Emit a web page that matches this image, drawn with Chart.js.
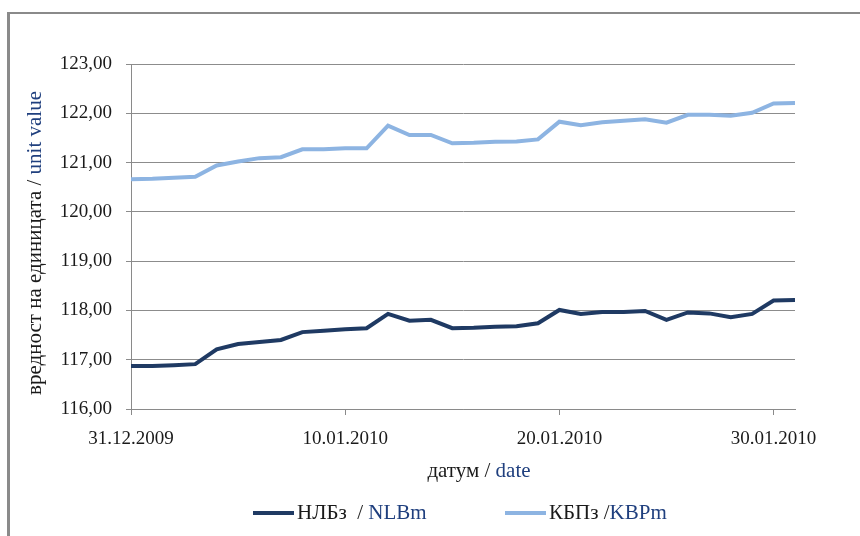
<!DOCTYPE html>
<html lang="bg">

<head>
  <meta charset="UTF-8">
  <script src="https://cdn.jsdelivr.net/npm/chart.js"></script>
  <title>НЛБз / КБПз</title>
  <style>
    html,
    body {
      margin: 0;
      padding: 0;
      background: #ffffff;
    }

    .card {
      position: relative;
      width: 860px;
      height: 536px;
    }
  </style>
</head>

<body>
  <div class="card">
    <canvas id="fundChart" width="860" height="536"></canvas>
  </div>

  <script>
    // datumi (31.12.2009 - 31.01.2010)
    const dates = [
      '31.12.2009', '01.01.2010', '02.01.2010', '03.01.2010', '04.01.2010', '05.01.2010',
      '06.01.2010', '07.01.2010', '08.01.2010', '09.01.2010', '10.01.2010', '11.01.2010',
      '12.01.2010', '13.01.2010', '14.01.2010', '15.01.2010', '16.01.2010', '17.01.2010',
      '18.01.2010', '19.01.2010', '20.01.2010', '21.01.2010', '22.01.2010', '23.01.2010',
      '24.01.2010', '25.01.2010', '26.01.2010', '27.01.2010', '28.01.2010', '29.01.2010',
      '30.01.2010', '31.01.2010'
    ];

    // НЛБз / NLBm
    const nlb = [
      116.87, 116.87, 116.89, 116.91, 117.21, 117.32, 117.36, 117.40, 117.56, 117.59,
      117.62, 117.64, 117.93, 117.79, 117.81, 117.64, 117.65, 117.67, 117.68, 117.74,
      118.01, 117.93, 117.97, 117.97, 117.99, 117.81, 117.96, 117.94, 117.86, 117.93,
      118.20, 118.21
    ];

    // КБПз / KBPm
    const kbp = [
      120.66, 120.67, 120.69, 120.71, 120.94, 121.02, 121.09, 121.11, 121.27, 121.27,
      121.29, 121.29, 121.75, 121.56, 121.56, 121.39, 121.40, 121.42, 121.43, 121.47,
      121.83, 121.76, 121.82, 121.85, 121.88, 121.81, 121.97, 121.97, 121.95, 122.01,
      122.20, 122.21
    ];

    const xTickIndex = [0, 10, 20, 30];

    const DARK = '#1f3a63';
    const LIGHT = '#8db4e2';
    const BLUE_TEXT = '#1f3f7e';
    const TEXT = '#1a1a1a';
    const SERIF = '"Liberation Serif", "DejaVu Serif", serif';

    function toPoints(values) {
      var pts = [];
      for (var i = 0; i < values.length; i++) {
        pts.push({ x: i, y: values[i] });
      }
      return pts;
    }

    // crta tekst so povekje boi edno po drugo
    function drawParts(ctx, parts, x, y) {
      var cx = x;
      for (var i = 0; i < parts.length; i++) {
        ctx.fillStyle = parts[i].color;
        ctx.fillText(parts[i].text, cx, y);
        cx += ctx.measureText(parts[i].text).width;
      }
    }

    function partsWidth(ctx, parts) {
      var w = 0;
      for (var i = 0; i < parts.length; i++) w += ctx.measureText(parts[i].text).width;
      return w;
    }

    const decorPlugin = {
      id: 'decor',
      beforeDraw(chart) {
        const ctx = chart.ctx;
        ctx.save();
        // ramka gore i levo
        ctx.fillStyle = '#8a8a8a';
        ctx.fillRect(7, 12, 853, 2);
        ctx.fillRect(7, 12, 3, 524);
        ctx.restore();
      },
      afterDraw(chart) {
        const ctx = chart.ctx;
        ctx.save();
        ctx.textBaseline = 'middle';
        ctx.font = '21px ' + SERIF;

        // naslov na y oskata
        var yTitle = [
          { text: 'вредност на единицата / ', color: TEXT },
          { text: 'unit value', color: BLUE_TEXT }
        ];
        ctx.save();
        ctx.translate(35, 243);
        ctx.rotate(-Math.PI / 2);
        drawParts(ctx, yTitle, -partsWidth(ctx, yTitle) / 2, 0);
        ctx.restore();

        // naslov na x oskata
        var xTitle = [
          { text: 'датум / ', color: TEXT },
          { text: 'date', color: BLUE_TEXT }
        ];
        drawParts(ctx, xTitle, 479 - partsWidth(ctx, xTitle) / 2, 471);

        // legenda
        var legend = [
          { color: DARK, x: 253, parts: [{ text: 'НЛБз  / ', color: TEXT }, { text: 'NLBm', color: BLUE_TEXT }] },
          { color: LIGHT, x: 505, parts: [{ text: 'КБПз /', color: TEXT }, { text: 'KBPm', color: BLUE_TEXT }] }
        ];
        for (var i = 0; i < legend.length; i++) {
          var item = legend[i];
          ctx.strokeStyle = item.color;
          ctx.lineWidth = 4;
          ctx.beginPath();
          ctx.moveTo(item.x, 513);
          ctx.lineTo(item.x + 41, 513);
          ctx.stroke();
          drawParts(ctx, item.parts, item.x + 44, 513);
        }
        ctx.restore();
      }
    };

    const ctx = document.getElementById('fundChart').getContext('2d');
    const fundChart = new Chart(ctx, {
      type: 'line',
      data: {
        datasets: [
          {
            label: 'НЛБз / NLBm',
            data: toPoints(nlb),
            borderColor: DARK,
            borderWidth: 4,
            pointRadius: 0,
            tension: 0,
            fill: false
          },
          {
            label: 'КБПз / KBPm',
            data: toPoints(kbp),
            borderColor: LIGHT,
            borderWidth: 4,
            pointRadius: 0,
            tension: 0,
            fill: false
          }
        ]
      },
      options: {
        responsive: false,
        animation: false,
        layout: {
          padding: { left: 0, right: 65, top: 64, bottom: 0 }
        },
        plugins: {
          legend: { display: false },
          tooltip: { enabled: false }
        },
        scales: {
          x: {
            type: 'linear',
            min: 0,
            max: dates.length - 1,
            afterBuildTicks: function (scale) {
              scale.ticks = xTickIndex.map(function (v) { return { value: v }; });
            },
            afterFit: function (scale) {
              scale.height = 127;
            },
            grid: {
              drawOnChartArea: false,
              drawTicks: true,
              tickLength: 6,
              color: '#8a8a8a'
            },
            border: { color: '#8a8a8a', width: 1 },
            ticks: {
              autoSkip: false,
              maxRotation: 0,
              padding: 13,
              color: TEXT,
              font: { family: SERIF, size: 19 },
              callback: function (value) {
                return dates[value];
              }
            }
          },
          y: {
            min: 116,
            max: 123,
            afterFit: function (scale) {
              scale.width = 131;
            },
            grid: {
              color: '#8c8c8c',
              lineWidth: 1,
              tickLength: 5
            },
            border: { color: '#8a8a8a', width: 1 },
            ticks: {
              stepSize: 1,
              padding: 14,
              color: TEXT,
              font: { family: SERIF, size: 19 },
              callback: function (value) {
                return value.toFixed(2).replace('.', ',');
              }
            }
          }
        }
      },
      plugins: [decorPlugin]
    });
  </script>

</body>

</html>
